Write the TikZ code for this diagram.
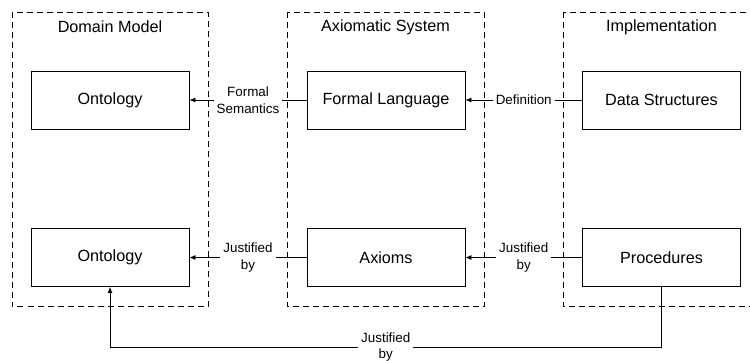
\documentclass[tikz,border=0pt]{standalone}
\usepackage{fontspec}
\setmainfont{Liberation Sans}
\usetikzlibrary{arrows.meta}

\tikzset{
  container/.style={draw=black, line width=0.8pt, dash pattern=on 6pt off 4pt},
  title/.style={font=\fontsize{16.2}{19}\selectfont, anchor=center},
  block/.style={draw=black, line width=0.8pt, minimum width=158pt, minimum height=58pt,
    inner sep=0pt, font=\fontsize{16.2}{19}\selectfont},
  link/.style={draw=black, line width=0.8pt, -{Latex[length=6pt,width=5pt]}},
  lbl/.style={fill=white, inner xsep=3pt, inner ysep=1pt, align=center,
    font=\fontsize{13.4}{16.7}\selectfont},
}

\begin{document}
\begin{tikzpicture}[x=1pt, y=-1pt]
  \useasboundingbox (0,0) rectangle (750,360);
  \clip (0,0) rectangle (750,360);
  \fill[white] (0,0) rectangle (750,360);

  % layer frames
  \draw[container] (12,12) rectangle (208,306.5);
  \draw[container] (287,12) rectangle (484,306.5);
  \draw[container] (563,12) rectangle (770,306.5);

  \node[title] (tdom) at (110,27) {Domain Model};
  \node[title] (tax)  at (385.5,27) {Axiomatic System};
  \node[title] (timp) at (661.5,27) {Implementation};

  % blocks
  \node[block] (ont1) at (110,100) {Ontology};
  \node[block] (ont2) at (110,257.5) {Ontology};
  \node[block] (fl)   at (386,100) {Formal Language};
  \node[block] (ax)   at (386,257.5) {Axioms};
  \node[block] (ds)   at (661.5,100) {Data Structures};
  \node[block] (pr)   at (661.5,257.5) {Procedures};

  % relations
  \draw[link] (fl.west) -- node[lbl] {Formal\\Semantics} (ont1.east);
  \draw[link] (ds.west) -- node[lbl] {Definition} (fl.east);
  \draw[link] (ax.west) -- node[lbl] {Justified\\by} (ont2.east);
  \draw[link] (pr.west) -- node[lbl] {Justified\\by} (ax.east);

  \coordinate (low) at (0,347);
  \draw[link] (pr.south) -- (pr.south |- low)
    -- node[lbl] {Justified\\by} (ont2.south |- low) -- (ont2.south);
\end{tikzpicture}
\end{document}
